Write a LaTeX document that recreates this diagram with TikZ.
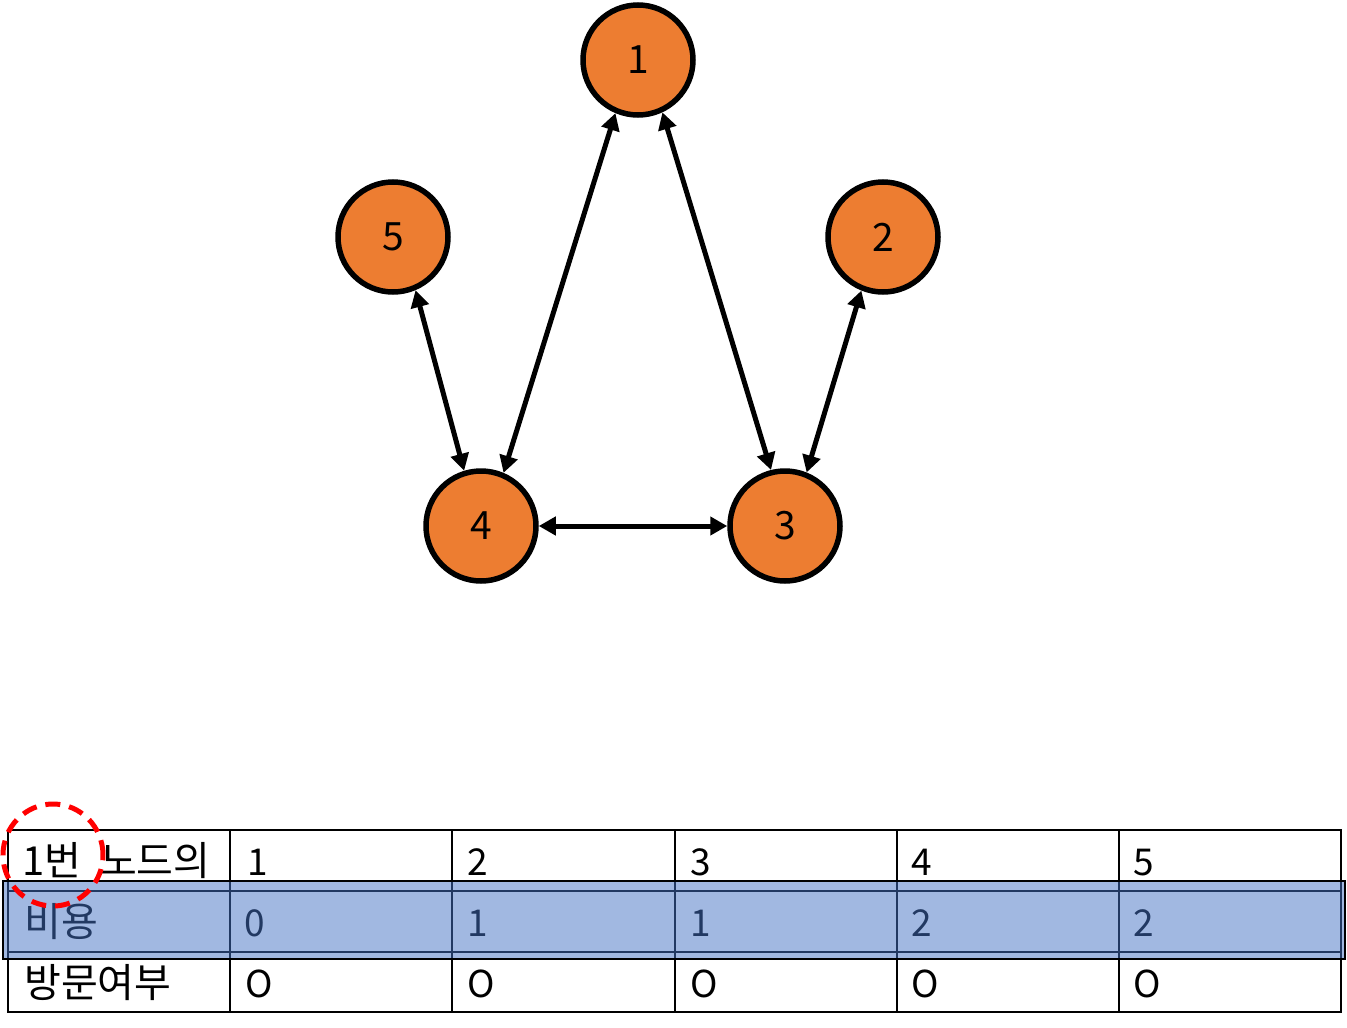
\documentclass[tikz,border=0pt]{standalone}
\usepackage{fontspec}
\setmainfont{Noto Sans CJK KR}
\usetikzlibrary{arrows.meta}
\definecolor{nodeorange}{HTML}{ED7D31}
\definecolor{hlblue}{HTML}{4472C4}
\tikzset{
  gnode/.style={circle,draw=black,line width=5.5pt,fill=nodeorange,minimum size=110pt,inner sep=0pt,font=\fontsize{39}{44}\selectfont},
  edge/.style={line width=5pt,{Triangle[length=17pt,width=18pt]}-{Triangle[length=17pt,width=18pt]}},
  cell/.style={anchor=base west,inner sep=0pt,font=\fontsize{37}{42}\selectfont},
  kcell/.style={anchor=base west,inner sep=0pt,font=\fontsize{40}{46}\selectfont},
  grid/.style={line width=2pt,draw=black},
}
\begin{document}
\begin{tikzpicture}[x=1pt,y=-1pt]
\useasboundingbox (0,0) rectangle (1347,1028);
% graph
\node[gnode] (n1) at (638,60) {1};
\node[gnode] (n5) at (393,237) {5};
\node[gnode] (n2) at (883,237) {2};
\node[gnode] (n4) at (481,526) {4};
\node[gnode] (n3) at (785,526) {3};
\draw[edge] (n1.247.5) -- (n4.67);
\draw[edge] (n1.295.8) -- (n3.104.3);
\draw[edge] (n5.293.7) -- (n4.107);
\draw[edge] (n2.248.4) -- (n3.68.7);
\draw[edge] (n4.east) -- (n3.west);
% table grid
\draw[grid] (8,830) rectangle (1341,1012);
\draw[grid] (8,891) -- (1341,891);
\draw[grid] (8,952) -- (1341,952);
\foreach \x in {230,452,675,897,1119} \draw[grid] (\x,830) -- (\x,1012);
% texts
\node[kcell] (h0) at (22,875) {1번\hspace{10pt} 노드의};
\node[cell] (h1) at (247,875) {1};
\node[cell] (h2) at (467,875) {2};
\node[cell] (h3) at (690,875) {3};
\node[cell] (h4) at (911,875) {4};
\node[cell] (h5) at (1133,875) {5};
\node[kcell] (c0) at (24,936) {비용};
\node[cell] (c1) at (244,936) {0};
\node[cell] (c2) at (467,936) {1};
\node[cell] (c3) at (690,936) {1};
\node[cell] (c4) at (911,936) {2};
\node[cell] (c5) at (1133,936) {2};
\node[kcell] (v0) at (24,997) {방문여부};
\node[cell] (v1) at (245,997) {O};
\node[cell] (v2) at (467,997) {O};
\node[cell] (v3) at (690,997) {O};
\node[cell] (v4) at (911,997) {O};
\node[cell] (v5) at (1133,997) {O};
% highlight
\draw[line width=2.5pt,fill=hlblue,fill opacity=0.5] (3,881) rectangle (1345,959);
% red dashed circle
\draw[red,line width=5pt,dash pattern=on 15pt off 9pt] (53,855) circle[x radius=50pt,y radius=51pt];
\end{tikzpicture}
\end{document}
